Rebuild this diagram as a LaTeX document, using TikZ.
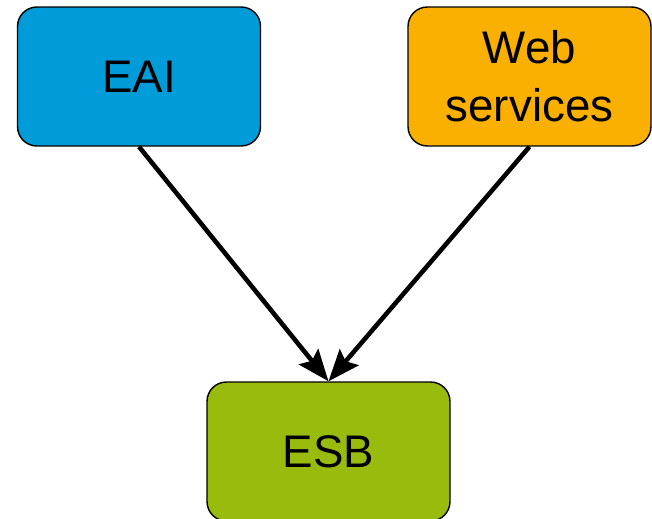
\documentclass[tikz,border=0pt]{standalone}
\usepackage{fontspec}
\setmainfont{Liberation Sans}
\usetikzlibrary{arrows.meta}

\definecolor{eaiblue}{RGB}{0,155,217}
\definecolor{wsorange}{RGB}{249,176,0}
\definecolor{esbgreen}{RGB}{153,187,14}

\begin{document}
\begin{tikzpicture}[
    x=0.02cm, y=-0.02cm,
    >={Stealth[length=18pt,width=14pt,inset=3pt]},
    techbox/.style={
        rectangle,
        rounded corners=11pt,
        draw,
        thick,
        minimum width=4.86cm,
        minimum height=2.78cm,
        align=center,
        font=\fontsize{26}{33}\selectfont
    },
    flowarrow/.style={
        draw,
        ->,
        line width=2.6pt
    }
]

% Frame
\useasboundingbox (0,0) rectangle (652,518);

% Boxes
\node[techbox, fill=eaiblue] (eai) at (139,76.5) {EAI};
\node[techbox, fill=wsorange] (ws) at (529.5,76.5) {Web\\services};
\node[techbox, fill=esbgreen] (esb) at (328.5,451.5) {ESB};

% Arrows
\draw[flowarrow] (eai.south) -- (esb.north);
\draw[flowarrow] (ws.south) -- (esb.north);

\end{tikzpicture}
\end{document}
